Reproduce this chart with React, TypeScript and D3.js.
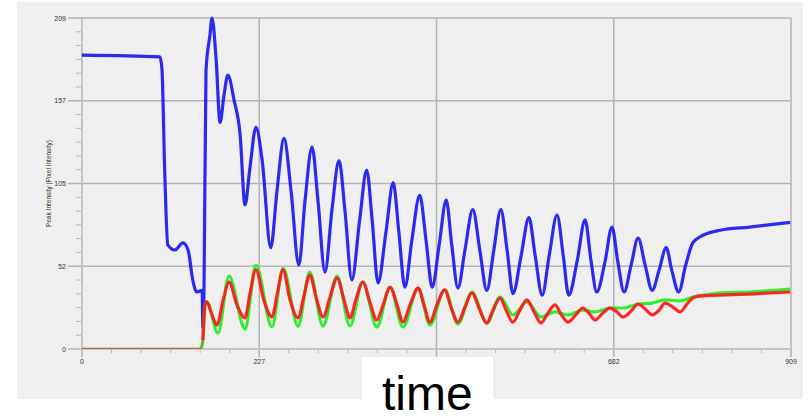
import React from "react";
import * as d3 from "d3";

// values: [time, intensity]
const blue: [number, number][] = [
  [0, 185.6], [100, 184.4], [102.6, 176], [106, 113], [110, 65.7], [119, 62.5], [129.5, 67],
  [136, 62.5], [142, 43.6], [147, 36], [154, 37], [155, 13.3], [156.4, 37], [159, 176],
  [164, 198], [166.7, 209], [172, 182.5], [177, 143], [182, 160], [187, 173], [195, 157],
  [202.6, 136], [209, 91], [215, 113], [223, 140], [231, 119], [242, 64], [250, 100],
  [259, 133], [268, 100], [278, 53], [286, 94], [295, 127.5], [302.5, 94], [311.5, 48.6],
  [320.5, 88], [329.5, 119], [337, 88], [346, 43.6], [356, 81.5], [365, 113], [372, 81.5],
  [379.5, 41.7], [390, 75], [399, 105], [406, 75], [414, 39], [423, 69], [433, 97], [441, 69],
  [449, 39], [458, 66], [467, 94], [474, 66], [482, 38.5], [491, 62.5], [501, 88], [510, 62.5],
  [519, 37], [528, 62.5], [537, 88], [545, 62.5], [552.6, 35], [563, 59], [573, 83], [581, 59],
  [590, 34], [599, 59], [609, 84.6], [617, 59], [624, 34], [635, 56], [645, 81.5], [652.5, 56],
  [660, 36], [670.5, 55], [679.5, 77], [687, 55], [695, 36], [704, 53], [713, 70], [722, 53],
  [731, 37], [740, 50], [749, 64], [756, 50], [765, 36], [774, 53], [783, 67], [792, 70.7],
  [818, 75], [856, 77], [908, 80],
];

const red: [number, number][] = [
  [0, 0.4], [152.6, 0.4], [155, 5.7], [157.7, 27.8], [160, 29.7], [166.7, 21.5], [173, 15.2],
  [181, 31], [188.5, 42.3], [198.7, 27.8], [209, 19.6], [215, 34], [223, 50], [233, 31],
  [243.6, 20.2], [250, 34], [257.7, 50], [266.7, 31], [277, 19.6], [284.6, 33.5], [292, 46.7],
  [301, 31], [309, 20.2], [318, 32.8], [327, 44.8], [336, 31], [343.6, 19.6], [351, 31],
  [360, 42.3], [369, 29.7], [378, 18.3], [386, 27.8], [395, 39], [404, 27.8], [411.5, 17],
  [420.5, 27.8], [431, 38.5], [438.5, 27.8], [446, 17], [455, 27.8], [465, 37.3], [473, 26.5],
  [482, 17], [491, 26.5], [500, 35.4], [509, 25.9], [519, 16.4], [527, 24.6], [536, 32.2],
  [543.6, 24.6], [552.6, 17], [561.5, 24.6], [570.5, 31], [579.5, 23.4], [588.5, 16.4],
  [597.4, 22.7], [606.4, 27.8], [614, 22.1], [623, 17], [633, 21.5], [642, 25.9], [650, 22.7],
  [657.7, 18.3], [668, 22.7], [677, 25.9], [686, 23.4], [693.6, 20.2], [704, 24], [713, 28.4],
  [722, 25.3], [731, 21.5], [740, 24.6], [747.4, 29], [757.7, 26.5], [766.7, 23.4],
  [775.6, 28.4], [783, 32.2], [792, 33.5], [818, 34], [856, 34.7], [908, 36],
];

const green: [number, number][] = [
  [0, 0.4], [152.6, 0.4], [155, 5.7], [157.7, 27.8], [160, 29.7], [174.4, 10], [188.5, 46],
  [209, 12.6], [223, 53], [243.6, 13.9], [257.7, 51], [277, 14.5], [292, 48.6], [309, 14.5],
  [327, 46], [343.6, 14.5], [360, 42.3], [378, 13.9], [395, 39], [411.5, 13.9], [431, 38.5],
  [446, 15.2], [465, 37.3], [482, 15.8], [500, 36], [519, 16.4], [536, 32.8], [552.6, 21.5],
  [570.5, 29.7], [588.5, 20.2], [606.4, 23.4], [623, 21.5], [642, 24.6], [657.7, 23.4],
  [677, 25.9], [693.6, 25.9], [713, 28.4], [731, 29], [747.4, 31], [766.7, 30.3], [783, 32.8],
  [792, 33.5], [818, 35.4], [856, 36], [908, 37.9],
];

const xTickLabels = ["0", "227", "455", "682", "909"];
const yTickLabels = ["0", "52", "105", "157", "209"];
const X_MAX = 909;
const Y_MAX = 209;
const MINOR_STEPS = 24;

export default function App() {
  const left = 82, right = 791, top = 18, bottom = 349;
  const x = d3.scaleLinear().domain([0, X_MAX]).range([left, right]);
  const y = d3.scaleLinear().domain([0, Y_MAX]).range([bottom, top]);

  const line = d3
    .line<[number, number]>()
    .x((d) => x(d[0]))
    .y((d) => y(d[1]))
    .curve(d3.curveMonotoneX);

  const minor = d3.range(MINOR_STEPS + 1);
  const gridCol = "#b4b4b4";
  const font = "Arial, 'Liberation Sans', sans-serif";

  return (
    <div style={{ position: "fixed", left: 0, top: 0 }}>
      <svg width={809} height={417} style={{ display: "block", background: "#fff" }}>
        <rect x={17} y={2} width={786} height={397} fill="#efefef" />

        {/* minor ticks */}
        {minor.map((i) => (
          <line key={"xm" + i} x1={x((X_MAX * i) / MINOR_STEPS)} x2={x((X_MAX * i) / MINOR_STEPS)}
            y1={bottom} y2={bottom + 4} stroke={gridCol} strokeWidth={1} />
        ))}
        {minor.map((i) => (
          <line key={"ym" + i} y1={y((Y_MAX * i) / MINOR_STEPS)} y2={y((Y_MAX * i) / MINOR_STEPS)}
            x1={left - 6} x2={left} stroke={gridCol} strokeWidth={1} />
        ))}

        {/* major grid */}
        {xTickLabels.map((t, i) => {
          const px = x((X_MAX * i) / (xTickLabels.length - 1));
          return (
            <g key={"xg" + t}>
              <line x1={px} x2={px} y1={top} y2={bottom + 8} stroke={gridCol} strokeWidth={1.5} />
              <text x={px} y={bottom + 15} fontSize={7} fill="#333" textAnchor="middle" fontFamily={font}>
                {t}
              </text>
            </g>
          );
        })}
        {yTickLabels.map((t, i) => {
          const py = y((Y_MAX * i) / (yTickLabels.length - 1));
          return (
            <g key={"yg" + t}>
              <line x1={left - 14} x2={right} y1={py} y2={py} stroke={gridCol} strokeWidth={1.5} />
              <text x={left - 16} y={py + 2.5} fontSize={7} fill="#333" textAnchor="end" fontFamily={font}>
                {t}
              </text>
            </g>
          );
        })}

        {/* axes */}
        <line x1={left} x2={left} y1={top} y2={bottom + 8} stroke="#c4c4c4" strokeWidth={2} />
        <line x1={left - 14} x2={right} y1={bottom} y2={bottom} stroke="#c4c4c4" strokeWidth={2} />

        <text transform={`translate(51,${(top + bottom) / 2}) rotate(-90)`} fontSize={6.5}
          fill="#333" textAnchor="middle" fontFamily={font}>
          Peak Intensity (Pixel Intensity)
        </text>

        {/* series */}
        <path d={line(blue) ?? ""} fill="none" stroke="#1414f0" strokeWidth={3.2} strokeOpacity={0.9} strokeLinejoin="round" />
        <path d={line(green) ?? ""} fill="none" stroke="#22ee22" strokeWidth={1.4} strokeOpacity={0.6} />
        <path d={line(green.slice(1)) ?? ""} fill="none" stroke="#22ee22" strokeWidth={3.2} strokeOpacity={0.9} strokeLinejoin="round" />
        <path d={line(red) ?? ""} fill="none" stroke="#ff2020" strokeWidth={1.4} strokeOpacity={0.6} />
        <path d={line(red.slice(2)) ?? ""} fill="none" stroke="#ff1a1a" strokeWidth={3.2} strokeOpacity={0.9} strokeLinejoin="round" />

        {/* caption box */}
        <rect x={362} y={357} width={131} height={60} fill="#fff" />
        <text x={382} y={410} fontSize={48} fill="#000" fontFamily={font}>
          time
        </text>
      </svg>
    </div>
  );
}
